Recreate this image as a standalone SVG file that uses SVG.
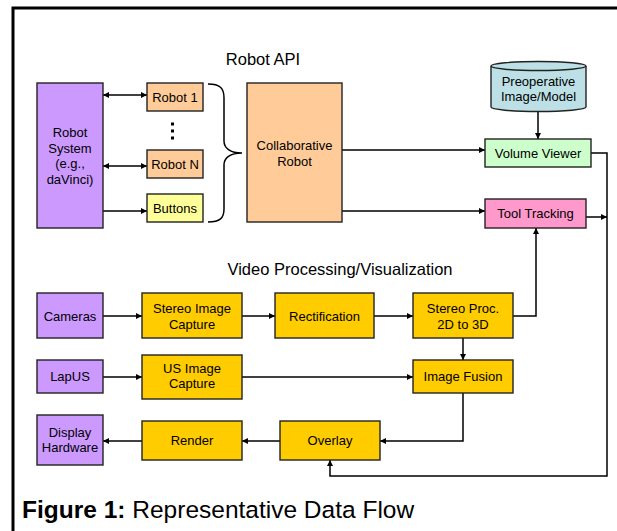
<svg xmlns="http://www.w3.org/2000/svg" width="617" height="531" viewBox="0 0 617 531">
  <style>
    text { font-family: "Liberation Sans", Arial, sans-serif; font-size: 13px; fill: #000; text-anchor: middle; }
    .title { font-size: 16.5px; }
    .box { stroke: #222; stroke-width: 1.4; }
    .purple { fill: #CC99FF; }
    .peach { fill: #FFCC99; }
    .lemon { fill: #FFFF99; }
    .gold { fill: #FFCC00; }
    .mint { fill: #CCFFCC; }
    .pink { fill: #FF99CC; }
    .conn path { fill: none; stroke: #000; stroke-width: 1.5; }
    .caption { font-size: 24.5px; text-anchor: start; }
  </style>
  <defs>
    <marker id="arrow" viewBox="0 0 10 10" refX="10" refY="5" markerWidth="7" markerHeight="6" markerUnits="userSpaceOnUse" orient="auto-start-reverse">
      <path d="M0,0 L10,5 L0,10 Z" fill="#000"/>
    </marker>
  </defs>

  <!-- frame -->
  <path d="M13,531 V8 H617" fill="none" stroke="#000" stroke-width="3"/>

  <text class="title" x="263" y="65">Robot API</text>
  <text class="title" x="340" y="275">Video Processing/Visualization</text>

  <!-- connectors -->
  <g class="conn" id="connectors">
    <path d="M103,95 H147" marker-start="url(#arrow)" marker-end="url(#arrow)"/>
    <path d="M103,166 H147" marker-start="url(#arrow)" marker-end="url(#arrow)"/>
    <path d="M103,211 H147" marker-end="url(#arrow)"/>
    <path d="M342,150 H485" marker-end="url(#arrow)"/>
    <path d="M342,211 H485" marker-end="url(#arrow)"/>
    <path d="M538,111 V139" marker-end="url(#arrow)"/>
    <path d="M591,153 H607 V476 H330 V460" marker-end="url(#arrow)"/>
    <path d="M586,217 H607" marker-end="url(#arrow)"/>
    <path d="M103,316 H142" marker-end="url(#arrow)"/>
    <path d="M242,316 H275" marker-end="url(#arrow)"/>
    <path d="M374,316 H413" marker-end="url(#arrow)"/>
    <path d="M513,316 H536 V228" marker-end="url(#arrow)"/>
    <path d="M463,338 V360" marker-end="url(#arrow)"/>
    <path d="M103,377 H142" marker-end="url(#arrow)"/>
    <path d="M242,377 H413" marker-end="url(#arrow)"/>
    <path d="M463,393 V441 H380" marker-end="url(#arrow)"/>
    <path d="M280,441 H242" marker-end="url(#arrow)"/>
    <path d="M142,441 H103" marker-end="url(#arrow)"/>
    <!-- brace grouping the robot interfaces -->
    <path d="M208,84 C220,84 224,88 224,98 L224,141 C224,148 230,153 242,153 C230,153 224,158 224,165 L224,209 C224,218 220,222 208,222"/>
  </g>

  <g id="robot-system">
    <rect class="box purple" x="37" y="83" width="66" height="145"/>
    <text x="70" y="137">Robot</text>
    <text x="70" y="152.5">System</text>
    <text x="70" y="168">(e.g.,</text>
    <text x="70" y="183.5">daVinci)</text>
  </g>
  <g id="robot-1">
    <rect class="box peach" x="147" y="83" width="56" height="28"/>
    <text x="175" y="101.7">Robot 1</text>
  </g>
  <g id="ellipsis">
    <rect x="171" y="122.5" width="3" height="3" fill="#000"/>
    <rect x="171" y="129.5" width="3" height="3" fill="#000"/>
    <rect x="171" y="136.5" width="3" height="3" fill="#000"/>
  </g>
  <g id="robot-n">
    <rect class="box peach" x="147" y="150" width="56" height="28"/>
    <text x="175" y="168.5">Robot N</text>
  </g>
  <g id="buttons">
    <rect class="box lemon" x="147" y="194" width="56" height="28"/>
    <text x="175" y="212.7">Buttons</text>
  </g>
  <g id="collaborative-robot">
    <rect class="box peach" x="247" y="83" width="95" height="139"/>
    <text x="294.5" y="150">Collaborative</text>
    <text x="294.5" y="165.5">Robot</text>
  </g>
  <g id="preoperative">
    <path class="box" fill="#BCE0E6" d="M491,66 V107 A47.5,4.5 0 0 0 586,107 V66"/>
    <ellipse class="box" fill="#BCE0E6" cx="538.5" cy="66" rx="47.5" ry="4.5"/>
    <text x="538.5" y="86">Preoperative</text>
    <text x="538.5" y="101">Image/Model</text>
  </g>
  <g id="volume-viewer">
    <rect class="box mint" x="485" y="139" width="106" height="28"/>
    <text x="538" y="157.7">Volume Viewer</text>
  </g>
  <g id="tool-tracking">
    <rect class="box pink" x="485" y="199" width="101" height="29"/>
    <text x="535.5" y="218">Tool Tracking</text>
  </g>

  <g id="cameras">
    <rect class="box purple" x="37" y="293" width="66" height="45"/>
    <text x="70" y="320.5">Cameras</text>
  </g>
  <g id="stereo-capture">
    <rect class="box gold" x="142" y="293" width="100" height="45"/>
    <text x="192" y="313.3">Stereo Image</text>
    <text x="192" y="329">Capture</text>
  </g>
  <g id="rectification">
    <rect class="box gold" x="275" y="293" width="99" height="45"/>
    <text x="324.5" y="320.5">Rectification</text>
  </g>
  <g id="stereo-proc">
    <rect class="box gold" x="413" y="293" width="100" height="45"/>
    <text x="463" y="313.3">Stereo Proc.</text>
    <text x="463" y="329">2D to 3D</text>
  </g>
  <g id="lapus">
    <rect class="box purple" x="37" y="360" width="66" height="33"/>
    <text x="70" y="381.3">LapUS</text>
  </g>
  <g id="us-capture">
    <rect class="box gold" x="142" y="355" width="100" height="44"/>
    <text x="192" y="373.3">US Image</text>
    <text x="192" y="388.3">Capture</text>
  </g>
  <g id="image-fusion">
    <rect class="box gold" x="413" y="360" width="100" height="33"/>
    <text x="463" y="381.3">Image Fusion</text>
  </g>
  <g id="display-hardware">
    <rect class="box purple" x="37" y="415" width="66" height="50"/>
    <text x="70" y="436.7">Display</text>
    <text x="70" y="452.3">Hardware</text>
  </g>
  <g id="render">
    <rect class="box gold" x="142" y="421" width="100" height="39"/>
    <text x="192" y="445">Render</text>
  </g>
  <g id="overlay">
    <rect class="box gold" x="280" y="421" width="100" height="39"/>
    <text x="330" y="445">Overlay</text>
  </g>

  <text class="caption" x="22" y="518"><tspan font-weight="bold">Figure 1:</tspan> Representative Data Flow</text>
</svg>
